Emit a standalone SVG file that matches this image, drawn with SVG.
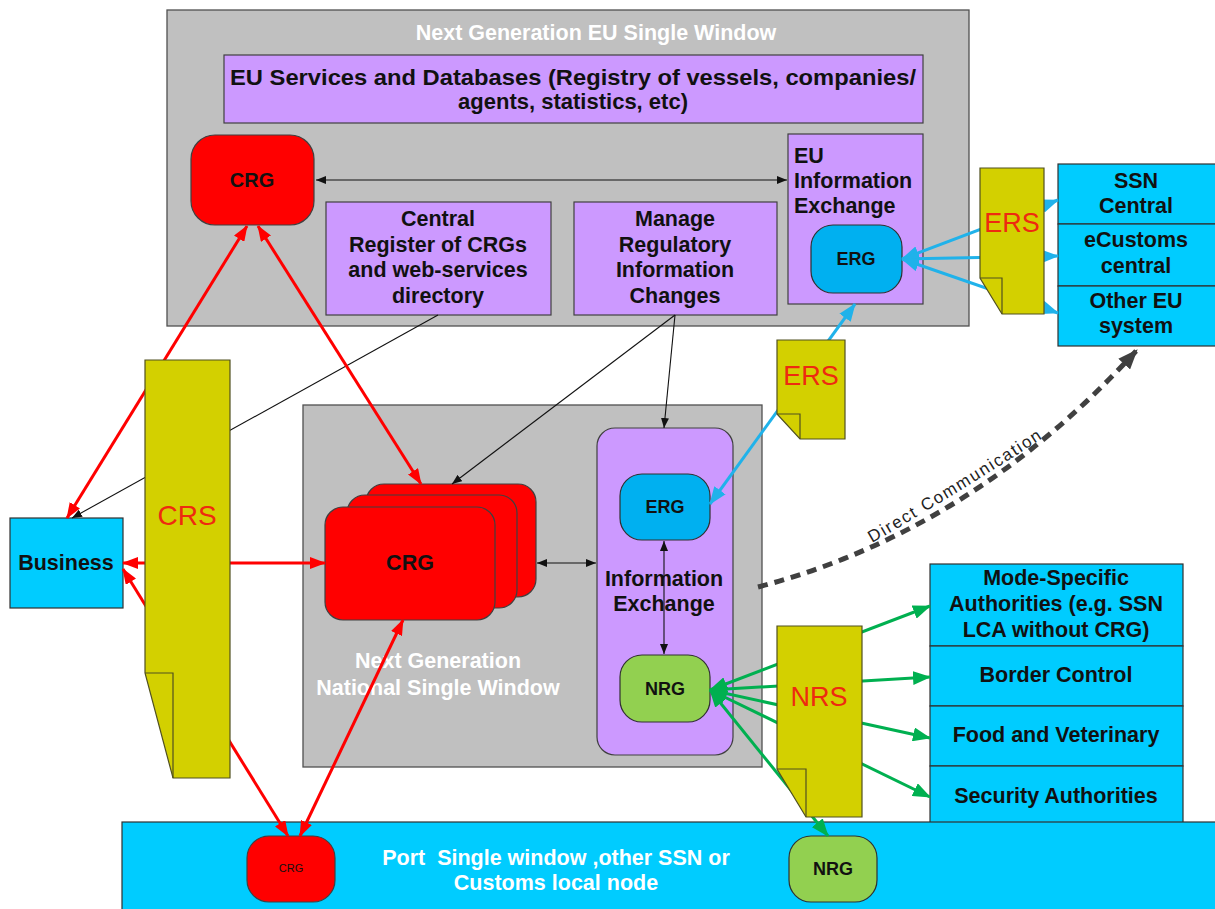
<svg xmlns="http://www.w3.org/2000/svg" width="1215" height="909" viewBox="0 0 1215 909">
  <defs>
    <style>
      .gray { fill: #c0c0c0; stroke: #505050; stroke-width: 1.3; }
      .purple { fill: #cc99ff; stroke: #404040; stroke-width: 1.2; }
      .cyan { fill: #00ccff; stroke: #303030; stroke-width: 1.2; }
      .red { fill: #ff0000; stroke: #404040; stroke-width: 1.2; }
      .erg { fill: #00b0f0; stroke: #303030; stroke-width: 1.2; }
      .nrg { fill: #92d050; stroke: #303030; stroke-width: 1.2; }
      .doc { fill: #d3d000; stroke: #505020; stroke-width: 1.2; }
      .fold { fill: none; stroke: #505020; stroke-width: 1.2; }
      .t { font-family: "Liberation Sans", Arial, sans-serif; font-weight: bold; font-size: 21.5px; fill: #111; text-anchor: middle; }
      .w { fill: #ffffff; }
      .l { text-anchor: start; }
      .g18 { font-size: 18px; }
      .docT { font-family: "Liberation Sans", Arial, sans-serif; font-size: 27px; fill: #ee2a10; text-anchor: middle; }
      .cr { fill: none; stroke: #ff0000; stroke-width: 3; marker-start: url(#ahR); marker-end: url(#ahR); }
      .cb { fill: none; stroke: #20b2ea; stroke-width: 3; marker-start: url(#ahB); marker-end: url(#ahB); }
      .cg { fill: none; stroke: #00b050; stroke-width: 3; marker-start: url(#ahG); marker-end: url(#ahG); }
      .ck { fill: none; stroke: #111; stroke-width: 1.1; }
    </style>
    <marker id="ahR" viewBox="0 0 16 12" refX="15" refY="6" markerWidth="16" markerHeight="12" markerUnits="userSpaceOnUse" orient="auto-start-reverse">
      <path d="M0,0 L16,6 L0,12 z" fill="#ff0000"/>
    </marker>
    <marker id="ahB" viewBox="0 0 18 14" refX="17" refY="7" markerWidth="18" markerHeight="14" markerUnits="userSpaceOnUse" orient="auto-start-reverse">
      <path d="M0,0 L18,7 L0,14 z" fill="#20b2ea"/>
    </marker>
    <marker id="ahG" viewBox="0 0 18 14" refX="17" refY="7" markerWidth="18" markerHeight="14" markerUnits="userSpaceOnUse" orient="auto-start-reverse">
      <path d="M0,0 L18,7 L0,14 z" fill="#00b050"/>
    </marker>
    <marker id="ahK" viewBox="0 0 10 8" refX="10" refY="4" markerWidth="10" markerHeight="8" markerUnits="userSpaceOnUse" orient="auto-start-reverse">
      <path d="M0,0 L10,4 L0,8 z" fill="#111"/>
    </marker>
    <marker id="ahD" viewBox="0 0 20 16" refX="19" refY="8" markerWidth="20" markerHeight="16" markerUnits="userSpaceOnUse" orient="auto">
      <path d="M0,0 L20,8 L0,16 z" fill="#404040"/>
    </marker>
    <path id="dcText" d="M 872,543 Q 962,491 1046,436"/>
  </defs>

  <rect width="1215" height="909" fill="#ffffff"/>

  <!-- EU single window -->
  <g id="eu-window">
    <rect class="gray" x="167" y="10" width="802" height="316"/>
    <text class="t w" x="596" y="40">Next Generation EU Single Window</text>
  </g>
  <g id="eu-services">
    <rect class="purple" x="224" y="55" width="699" height="68"/>
    <text class="t" x="573" y="85" textLength="686" lengthAdjust="spacingAndGlyphs">EU Services and Databases (Registry of vessels, companies/</text>
    <text class="t" x="573" y="109" textLength="230" lengthAdjust="spacingAndGlyphs">agents, statistics, etc)</text>
  </g>
  <g id="eu-crg">
    <rect class="red" x="191" y="135" width="123" height="90" rx="24"/>
    <text class="t" x="252" y="187" style="font-size:20px">CRG</text>
  </g>
  <g id="central-register">
    <rect class="purple" x="326" y="202" width="225" height="113"/>
    <text class="t" x="438" y="226">Central</text>
    <text class="t" x="438" y="252">Register of CRGs</text>
    <text class="t" x="438" y="277">and web-services</text>
    <text class="t" x="438" y="303">directory</text>
  </g>
  <g id="manage-changes">
    <rect class="purple" x="574" y="202" width="203" height="113"/>
    <text class="t" x="675" y="226">Manage</text>
    <text class="t" x="675" y="252">Regulatory</text>
    <text class="t" x="675" y="277">Information</text>
    <text class="t" x="675" y="303">Changes</text>
  </g>
  <g id="eu-info-exchange">
    <rect class="purple" x="788" y="134" width="135" height="170"/>
    <text class="t l" x="794" y="163">EU</text>
    <text class="t l" x="794" y="188">Information</text>
    <text class="t l" x="794" y="213">Exchange</text>
  </g>
  <g id="eu-erg">
    <rect class="erg" x="811" y="225" width="91" height="68" rx="22"/>
    <text class="t g18" x="856" y="265">ERG</text>
  </g>

  <!-- external EU systems -->
  <g id="ssn-central">
    <rect class="cyan" x="1058" y="164" width="160" height="60"/>
    <text class="t" x="1136" y="188">SSN</text>
    <text class="t" x="1136" y="213">Central</text>
  </g>
  <g id="ecustoms-central">
    <rect class="cyan" x="1058" y="224" width="160" height="62"/>
    <text class="t" x="1136" y="247">eCustoms</text>
    <text class="t" x="1136" y="273">central</text>
  </g>
  <g id="other-eu-system">
    <rect class="cyan" x="1058" y="286" width="160" height="60"/>
    <text class="t" x="1136" y="308">Other EU</text>
    <text class="t" x="1136" y="333">system</text>
  </g>

  <!-- national single window -->
  <g id="national-window">
    <rect class="gray" x="303" y="405" width="459" height="362"/>
    <text class="t w" x="438" y="668">Next Generation</text>
    <text class="t w" x="438" y="695">National Single Window</text>
  </g>
  <g id="info-exchange">
    <rect class="purple" x="597" y="428" width="136" height="327" rx="18"/>
    <text class="t" x="664" y="586">Information</text>
    <text class="t" x="664" y="611">Exchange</text>
  </g>
  <g id="national-crg">
    <rect class="red" x="366" y="484" width="170" height="113" rx="18"/>
    <rect class="red" x="347" y="495" width="170" height="113" rx="18"/>
    <rect class="red" x="325" y="507" width="170" height="113" rx="18"/>
    <text class="t" x="410" y="570">CRG</text>
  </g>
  <g id="national-erg">
    <rect class="erg" x="620" y="474" width="90" height="66" rx="22"/>
    <text class="t g18" x="665" y="513">ERG</text>
  </g>
  <g id="national-nrg">
    <rect class="nrg" x="620" y="655" width="90" height="67" rx="22"/>
    <text class="t g18" x="665" y="695">NRG</text>
  </g>

  <!-- business -->
  <g id="business">
    <rect class="cyan" x="10" y="518" width="113" height="90"/>
    <text class="t" x="66" y="570">Business</text>
  </g>

  <!-- national authorities -->
  <g id="mode-specific">
    <rect class="cyan" x="930" y="564" width="253" height="82"/>
    <text class="t" x="1056" y="585">Mode-Specific</text>
    <text class="t" x="1056" y="611">Authorities (e.g. SSN</text>
    <text class="t" x="1056" y="637">LCA without CRG)</text>
  </g>
  <g id="border-control">
    <rect class="cyan" x="930" y="646" width="253" height="60"/>
    <text class="t" x="1056" y="682">Border Control</text>
  </g>
  <g id="food-veterinary">
    <rect class="cyan" x="930" y="706" width="253" height="60"/>
    <text class="t" x="1056" y="742">Food and Veterinary</text>
  </g>
  <g id="security">
    <rect class="cyan" x="930" y="766" width="253" height="57"/>
    <text class="t" x="1056" y="803">Security Authorities</text>
  </g>

  <!-- local node -->
  <g id="port-node">
    <rect class="cyan" x="122" y="822" width="1100" height="92"/>
    <text class="t w" x="556" y="865">Port&#160; Single window ,other SSN or</text>
    <text class="t w" x="556" y="890">Customs local node</text>
  </g>
  <g id="port-crg">
    <rect class="red" x="247" y="836" width="88" height="66" rx="22"/>
    <text x="291" y="872" font-family="Liberation Sans, Arial, sans-serif" font-size="11" text-anchor="middle" fill="#111">CRG</text>
  </g>
  <g id="port-nrg">
    <rect class="nrg" x="789" y="836" width="88" height="66" rx="22"/>
    <text class="t g18" x="833" y="875">NRG</text>
  </g>

  <!-- connectors -->
  <g id="connectors">
    <line class="ck" x1="316" y1="180" x2="787" y2="180" marker-start="url(#ahK)" marker-end="url(#ahK)"/>
    <line class="ck" x1="438" y1="315" x2="72" y2="518" marker-end="url(#ahK)"/>
    <line class="ck" x1="675" y1="315" x2="452" y2="484" marker-end="url(#ahK)"/>
    <line class="ck" x1="675" y1="315" x2="664" y2="428" marker-end="url(#ahK)"/>
    <line class="ck" x1="537" y1="563" x2="596" y2="563" marker-start="url(#ahK)" marker-end="url(#ahK)"/>
    <line class="ck" x1="664" y1="541" x2="664" y2="654" marker-start="url(#ahK)" marker-end="url(#ahK)"/>

    <line class="cr" x1="247" y1="226" x2="67" y2="518"/>
    <line class="cr" x1="258" y1="226" x2="421" y2="484"/>
    <line class="cr" x1="123" y1="563" x2="325" y2="563"/>
    <line class="cr" x1="123" y1="569" x2="288" y2="836"/>
    <line class="cr" x1="300" y1="836" x2="403" y2="620"/>

    <line class="cb" x1="902" y1="259" x2="1058" y2="200"/>
    <line class="cb" x1="902" y1="259" x2="1058" y2="256"/>
    <line class="cb" x1="902" y1="259" x2="1058" y2="313"/>
    <line class="cb" x1="855" y1="304" x2="710" y2="504"/>

    <line class="cg" x1="710" y1="690" x2="930" y2="606"/>
    <line class="cg" x1="710" y1="690" x2="930" y2="677"/>
    <line class="cg" x1="710" y1="690" x2="930" y2="738"/>
    <line class="cg" x1="710" y1="690" x2="930" y2="797"/>
    <line class="cg" x1="710" y1="690" x2="828" y2="836"/>

    <path d="M758,587 Q972,531 1137,350" fill="none" stroke="#404040" stroke-width="5" stroke-dasharray="10,7" marker-end="url(#ahD)"/>
    <text font-family="Liberation Sans, Arial, sans-serif" font-size="17" fill="#222"><textPath href="#dcText" textLength="200" lengthAdjust="spacing">Direct Communication</textPath></text>
  </g>

  <!-- registry documents -->
  <g id="crs">
    <polygon class="doc" points="145,360 230,360 230,778 173,778 145,673"/>
    <polyline class="fold" points="145,673 173,673 173,778"/>
    <text class="docT" x="187" y="525" style="font-size:28px">CRS</text>
  </g>
  <g id="ers-eu">
    <polygon class="doc" points="980,168 1044,168 1044,314 1002,314 980,278"/>
    <polyline class="fold" points="980,278 1002,278 1002,314"/>
    <text class="docT" x="1012" y="232">ERS</text>
  </g>
  <g id="ers-national">
    <polygon class="doc" points="777,340 845,340 845,439 800,439 777,414"/>
    <polyline class="fold" points="777,414 800,414 800,439"/>
    <text class="docT" x="811" y="385">ERS</text>
  </g>
  <g id="nrs">
    <polygon class="doc" points="777,626 862,626 862,817 806,817 777,769"/>
    <polyline class="fold" points="777,769 806,769 806,817"/>
    <text class="docT" x="819" y="706">NRS</text>
  </g>
</svg>
